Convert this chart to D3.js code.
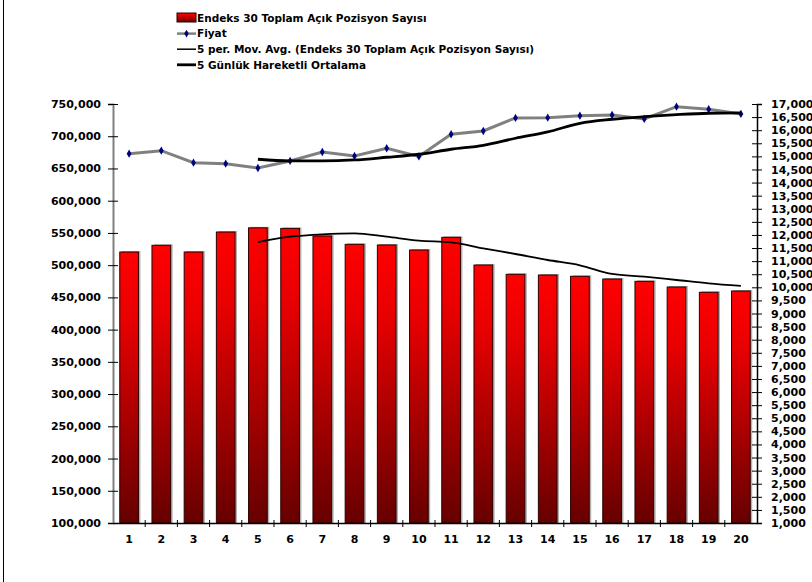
<!DOCTYPE html>
<html><head><meta charset="utf-8">
<script src="https://cdn.jsdelivr.net/npm/d3@7"></script>
<style>body{margin:0;background:#fff}svg{display:block}text{font-family:"DejaVu Sans",Verdana,sans-serif;font-weight:bold;fill:#000}</style>
</head><body><svg id="c" width="812" height="582"></svg>
<script>
const categories = ["1","2","3","4","5","6","7","8","9","10","11","12","13","14","15","16","17","18","19","20"];
const openPositions = [520400,530800,520400,551400,557900,557000,545200,532300,531300,523500,543200,500200,485800,484700,482700,478500,474900,466100,457900,459900];
const positionsMovAvg = [null,null,null,null,535900,544100,547900,549400,544100,537900,535400,526100,517300,508000,499800,486300,482100,477000,471800,467700];
const price = [15104,15218,14760,14722,14557,14825,15168,15016,15310,15000,15844,15970,16467,16478,16555,16581,16429,16898,16799,16620];
const priceMovAvg = [null,null,null,null,14890,14825,14825,14863,14966,15081,15272,15424,15692,15932,16264,16417,16517,16593,16646,16658];
const leftTicks = [100000,150000,200000,250000,300000,350000,400000,450000,500000,550000,600000,650000,700000,750000];
const rightTicks = d3.range(1000, 17001, 500);
const legendLabels = ["Endeks 30 Toplam Açık Pozisyon Sayısı","Fiyat","5 per. Mov. Avg. (Endeks 30 Toplam Açık Pozisyon Sayısı)","5 Günlük Hareketli Ortalama"];

const svg = d3.select("#c");
const L = 113, R = 757, T = 104, B = 523;
const fmt = d3.format(",");

const x = d3.scaleBand().domain(categories).range([L, R]).paddingInner(0.42).paddingOuter(0.21);
const xc = d => x(d) + x.bandwidth() / 2;
const yL = d3.scaleLinear().domain([100000, 750000]).range([B, T]);
const yR = d3.scaleLinear().domain([1000, 17000]).range([B, T]);

svg.append("line").attr("x1",3.5).attr("x2",3.5).attr("y1",0).attr("y2",582).attr("stroke","#000").attr("stroke-width",1);

const defs = svg.append("defs");
const g = defs.append("linearGradient").attr("id","barGrad").attr("x1",0).attr("y1",0).attr("x2",0).attr("y2",1);
g.append("stop").attr("offset","0%").attr("stop-color","#ff0000");
g.append("stop").attr("offset","25%").attr("stop-color","#e80000");
g.append("stop").attr("offset","100%").attr("stop-color","#660000");

svg.append("g").selectAll("rect").data(categories).join("rect")
  .attr("x", d => x(d) + 2).attr("y", (d,i) => yL(openPositions[i]) - 1)
  .attr("width", x.bandwidth()).attr("height", (d,i) => B - yL(openPositions[i]) + 1)
  .attr("fill", "#b0b0b0");
svg.append("g").selectAll("rect").data(categories).join("rect")
  .attr("x", d => x(d)).attr("y", (d,i) => yL(openPositions[i]))
  .attr("width", x.bandwidth()).attr("height", (d,i) => B - yL(openPositions[i]))
  .attr("fill", "url(#barGrad)").attr("stroke", "#2a0000").attr("stroke-width", 1);

const axL = svg.append("g").attr("transform",`translate(${L},0)`)
  .call(d3.axisLeft(yL).tickValues(leftTicks).tickFormat(fmt).tickSize(5).tickPadding(7));
axL.select(".domain").attr("stroke","#808080").attr("stroke-width",2);
axL.selectAll(".tick line").attr("x2",5).attr("x1",-5).attr("stroke","#000");
axL.selectAll("text").attr("font-size","11px").attr("font-family","DejaVu Sans").attr("font-weight","bold").attr("fill","#000");

const axR = svg.append("g").attr("transform",`translate(${R},0)`)
  .call(d3.axisRight(yR).tickValues(rightTicks).tickFormat(fmt).tickSize(5).tickPadding(9));
axR.select(".domain").attr("stroke","#000").attr("stroke-width",1.5);
axR.selectAll(".tick line").attr("x1",-5).attr("x2",5).attr("stroke","#000");
axR.selectAll("text").attr("font-size","11px").attr("font-family","DejaVu Sans").attr("font-weight","bold").attr("fill","#000");

const axB = svg.append("g").attr("transform",`translate(0,${B})`)
  .call(d3.axisBottom(x).tickSize(0).tickPadding(12));
axB.select(".domain").attr("stroke","#000").attr("stroke-width",1.5);
axB.selectAll("text").attr("font-size","11px").attr("font-family","DejaVu Sans").attr("font-weight","bold").attr("fill","#000");
const step = x.step();
const bounds = d3.range(1, categories.length).map(i => x(categories[i]) - x.paddingInner()*step/2 );
svg.append("g").selectAll("line").data(bounds).join("line")
  .attr("x1", d => d).attr("x2", d => d).attr("y1", B - 3).attr("y2", B + 4).attr("stroke","#000");

const lineL = d3.line().defined(d => d.v != null).x(d => xc(d.c)).y(d => yL(d.v)).curve(d3.curveMonotoneX);
svg.append("path").datum(categories.map((c,i)=>({c, v: positionsMovAvg[i]})))
  .attr("d", lineL).attr("fill","none").attr("stroke","#000").attr("stroke-width",1.8);

const lineR = d3.line().x(d => xc(d.c)).y(d => yR(d.v));
svg.append("path").datum(categories.map((c,i)=>({c, v: price[i]})))
  .attr("d", lineR).attr("fill","none").attr("stroke","#808080").attr("stroke-width",3);
svg.append("g").selectAll("path").data(categories).join("path")
  .attr("transform", (d,i) => `translate(${xc(d)},${yR(price[i])})`)
  .attr("d", d3.symbol(d3.symbolDiamond, 20)).attr("fill","#000080");

const lineR2 = d3.line().defined(d => d.v != null).x(d => xc(d.c)).y(d => yR(d.v)).curve(d3.curveMonotoneX);
svg.append("path").datum(categories.map((c,i)=>({c, v: priceMovAvg[i]})))
  .attr("d", lineR2).attr("fill","none").attr("stroke","#000").attr("stroke-width",2.8);

const lg = svg.append("g");
const lx = 177, ly0 = 18, ldy = 15.6;
legendLabels.forEach((t, i) => {
  const y = ly0 + i * ldy;
  if (i === 0) {
    lg.append("rect").attr("x", lx).attr("y", y - 5).attr("width", 19).attr("height", 9)
      .attr("fill","url(#barGrad)").attr("stroke","#2a0000").attr("stroke-width",1);
  } else if (i === 1) {
    lg.append("line").attr("x1",lx).attr("x2",lx+19).attr("y1",y).attr("y2",y).attr("stroke","#808080").attr("stroke-width",2.5);
    lg.append("path").attr("transform",`translate(${lx+9.5},${y})`).attr("d", d3.symbol(d3.symbolDiamond, 18)).attr("fill","#000080");
  } else {
    lg.append("line").attr("x1",lx).attr("x2",lx+19).attr("y1",y).attr("y2",y).attr("stroke","#000").attr("stroke-width", i === 2 ? 1.5 : 2.8);
  }
  lg.append("text").attr("x", lx + 20).attr("y", y).attr("dy","0.36em").attr("font-size","10.5px").text(t);
});
</script></body></html>
